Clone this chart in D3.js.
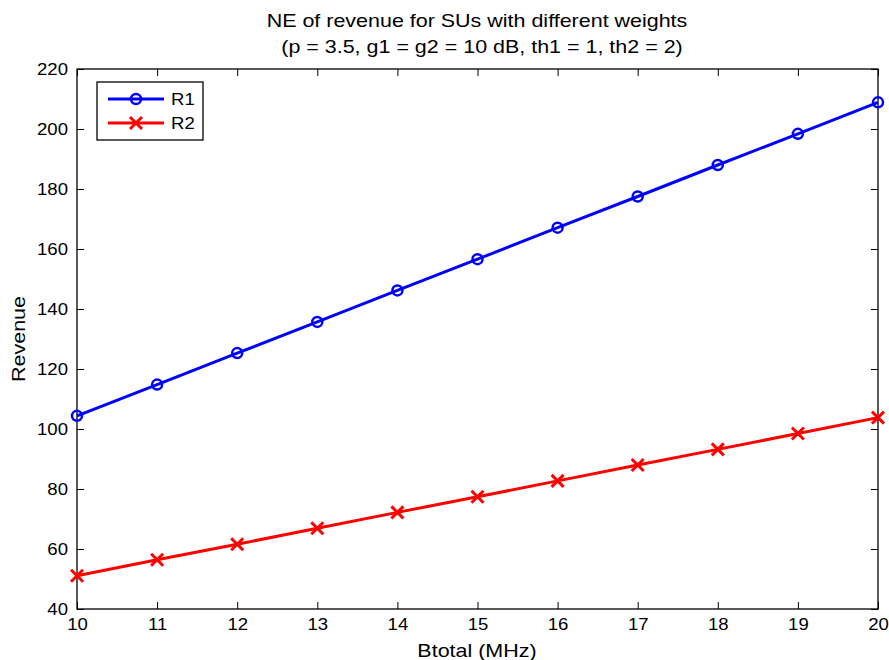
<!DOCTYPE html>
<html>
<head>
<meta charset="utf-8">
<script src="https://cdn.jsdelivr.net/npm/d3@7/dist/d3.min.js"></script>
<style>
  body { margin: 0; background: #fff; }
  svg { display: block; font-family: "Liberation Sans", Arial, sans-serif; }
</style>
</head>
<body>
<svg id="chart" width="889" height="660"></svg>
<script>
// Bandwidth values (MHz) and revenue at Nash equilibrium for each SU
const bandwidth = [10, 11, 12, 13, 14, 15, 16, 17, 18, 19, 20];
const revenueR1 = [104.4, 114.8, 125.3, 135.7, 146.2, 156.6, 167.1, 177.5, 188.0, 198.4, 208.9];
const revenueR2 = [51.1, 56.4, 61.6, 66.9, 72.2, 77.4, 82.7, 88.0, 93.2, 98.5, 103.8];
const xTicks = [10, 11, 12, 13, 14, 15, 16, 17, 18, 19, 20];
const yTicks = [40, 60, 80, 100, 120, 140, 160, 180, 200, 220];
const seriesNames = ["R1", "R2"];

const svg = d3.select("#chart");
const m = { left: 77, right: 878, top: 69, bottom: 609 };

const x = d3.scaleLinear().domain([10, 20]).range([m.left, m.right]);
const y = d3.scaleLinear().domain([40, 220]).range([m.bottom, m.top]);

// Slightly wide lettering, as in the exported figure
const widen = sel => sel.each(function () {
  const len = this.getComputedTextLength();
  if (len > 0) d3.select(this).attr("textLength", len * 1.16).attr("lengthAdjust", "spacingAndGlyphs");
});

// Plot frame
svg.append("rect")
  .attr("x", m.left).attr("y", m.top)
  .attr("width", m.right - m.left).attr("height", m.bottom - m.top)
  .attr("fill", "#fff").attr("stroke", "#000").attr("stroke-width", 1.3);

const tickLen = 7;
// Axes with inward ticks on all four sides
const axisStyle = g => {
  g.select(".domain").remove();
  g.selectAll(".tick line").attr("stroke", "#000").attr("stroke-width", 1);
  g.selectAll(".tick text").attr("fill", "#000").style("font-size", "16px")
    .style("font-family", "Liberation Sans, Arial, sans-serif");
};

svg.append("g").attr("transform", `translate(0,${m.bottom})`)
  .call(d3.axisBottom(x).tickValues(xTicks).tickFormat(d3.format("d"))
    .tickSizeInner(-tickLen).tickSizeOuter(0).tickPadding(10))
  .call(axisStyle)
  .call(g => g.selectAll(".tick text").call(widen));
svg.append("g").attr("transform", `translate(0,${m.top})`)
  .call(d3.axisTop(x).tickValues(xTicks).tickFormat("")
    .tickSizeInner(-tickLen).tickSizeOuter(0))
  .call(axisStyle);
svg.append("g").attr("transform", `translate(${m.left},0)`)
  .call(d3.axisLeft(y).tickValues(yTicks).tickFormat(d3.format("d"))
    .tickSizeInner(-tickLen).tickSizeOuter(0).tickPadding(9))
  .call(axisStyle)
  .call(g => g.selectAll(".tick text").call(widen));
svg.append("g").attr("transform", `translate(${m.right},0)`)
  .call(d3.axisRight(y).tickValues(yTicks).tickFormat("")
    .tickSizeInner(-tickLen).tickSizeOuter(0))
  .call(axisStyle);

const line = d3.line().x((d, i) => x(bandwidth[i])).y(d => y(d));

// R1: blue line with circle markers
svg.append("path").datum(revenueR1)
  .attr("d", line).attr("fill", "none")
  .attr("stroke", "#0000ff").attr("stroke-width", 3);
svg.append("g").selectAll("circle").data(revenueR1).join("circle")
  .attr("cx", (d, i) => x(bandwidth[i])).attr("cy", d => y(d)).attr("r", 5)
  .attr("fill", "none").attr("stroke", "#0000ff").attr("stroke-width", 2.5);

// R2: red line with cross markers
svg.append("path").datum(revenueR2)
  .attr("d", line).attr("fill", "none")
  .attr("stroke", "#ff0000").attr("stroke-width", 3);
const cross = (g, cx, cy, s) => g.append("path")
  .attr("d", `M${cx - s},${cy - s}L${cx + s},${cy + s}M${cx - s},${cy + s}L${cx + s},${cy - s}`)
  .attr("stroke", "#ff0000").attr("stroke-width", 3).attr("fill", "none");
const crossG = svg.append("g");
revenueR2.forEach((d, i) => cross(crossG, x(bandwidth[i]), y(d), 6));

// Legend
const lg = svg.append("g");
lg.append("rect").attr("x", 97).attr("y", 82).attr("width", 106).attr("height", 58)
  .attr("fill", "#fff").attr("stroke", "#000").attr("stroke-width", 1.3);
const legendY = [99, 123];
const colors = ["#0000ff", "#ff0000"];
seriesNames.forEach((name, i) => {
  lg.append("line").attr("x1", 108).attr("x2", 164)
    .attr("y1", legendY[i]).attr("y2", legendY[i])
    .attr("stroke", colors[i]).attr("stroke-width", 3);
  if (i === 0) {
    lg.append("circle").attr("cx", 136).attr("cy", legendY[i]).attr("r", 5)
      .attr("fill", "none").attr("stroke", colors[i]).attr("stroke-width", 2.5);
  } else {
    cross(lg, 136, legendY[i], 6);
  }
  lg.append("text").attr("x", 171).attr("y", legendY[i]).attr("dy", "0.36em")
    .style("font-size", "16px").text(name).call(widen);
});

// Titles and axis labels
const title = svg.append("text").attr("text-anchor", "middle").style("font-size", "18.5px");
title.append("text");
svg.append("text").attr("x", 477).attr("y", 27).attr("text-anchor", "middle")
  .style("font-size", "18.5px").text("NE of revenue for SUs with different weights").call(widen);
svg.append("text").attr("x", 482).attr("y", 53).attr("text-anchor", "middle")
  .style("font-size", "18.5px").text("(p = 3.5, g1 = g2 = 10 dB, th1 = 1, th2 = 2)").call(widen);
title.remove();

svg.append("text").attr("x", 477).attr("y", 657).attr("text-anchor", "middle")
  .style("font-size", "18.5px").text("Btotal (MHz)").call(widen);
svg.append("text").attr("transform", "translate(25,339) rotate(-90)")
  .attr("text-anchor", "middle").style("font-size", "18.5px").text("Revenue").call(widen);
</script>
</body>
</html>
